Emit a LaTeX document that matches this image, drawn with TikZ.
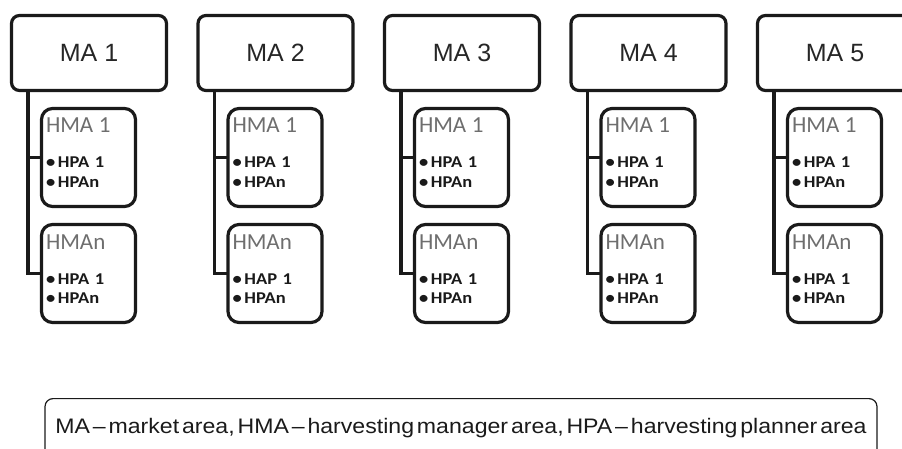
\documentclass[tikz,border=0pt]{standalone}
\usepackage{fontspec}
\setmainfont{Liberation Sans}
\newfontfamily\hmafont{Carlito}
\newfontfamily\hpafont[FakeStretch=1.12]{Carlito}
\newfontfamily\legendfont[Ligatures=TeX, FakeStretch=1.1, WordSpace=0.45]{Liberation Sans}
\usepackage{tikz}
\usetikzlibrary{positioning}
\definecolor{ink}{HTML}{1A1A1A}
\definecolor{matext}{HTML}{262626}
\definecolor{titlegray}{HTML}{6E6E6E}
\newcommand{\hmatitle}[1]{{\hmafont\mdseries\fontsize{23}{23}\selectfont\color{titlegray}#1}}
\newcommand{\hpa}{\textbullet\,}
\tikzset{
  mabox/.style={draw=ink, line width=3.2pt, rounded corners=8pt, outer sep=0pt, minimum width=155pt, minimum height=75pt, font=\fontsize{25}{30}\selectfont, text=matext},
  hmabox/.style={draw=ink, line width=3.2pt, rounded corners=11pt, outer sep=0pt, text width=85pt, align=left, inner xsep=4.5pt, inner ysep=0pt, text height=24.5pt, text depth=73.5pt, font=\hpafont\bfseries\fontsize{16.5}{20}\selectfont, text=ink},
  spine/.style={draw=ink, line width=3.2pt},
  legendbox/.style={draw=ink, line width=1.2pt, rounded corners=8pt, outer sep=0pt, minimum width=832pt, inner sep=0pt, text height=34.5pt, text depth=40pt, font=\legendfont\fontsize{21}{21}\selectfont, text=ink},
}

\begin{document}
\begin{tikzpicture}[x=1pt, y=1pt]
  \useasboundingbox (0,0) rectangle (902,-449);
  \clip (0,0) rectangle (902,-449);

  % market areas
  \node[mabox] (ma1) at (89,-53) {MA 1};
  \node[mabox, right=31.5pt of ma1] (ma2) {MA 2};
  \node[mabox, right=31.5pt of ma2] (ma3) {MA 3};
  \node[mabox, right=31.5pt of ma3] (ma4) {MA 4};
  \node[mabox, right=31.5pt of ma4] (ma5) {MA 5};

  % harvesting manager areas
  \node[hmabox, below right=18pt and 30pt of ma1.south west] (hma1) {\hmatitle{HMA 1}\\[15pt]\hpa HPA 1\\\hpa HPAn};
  \node[hmabox, below=18pt of hma1] (hman1) {\hmatitle{HMAn}\\[15pt]\hpa HPA 1\\\hpa HPAn};
  \node[hmabox, below right=18pt and 30pt of ma2.south west] (hma2) {\hmatitle{HMA 1}\\[15pt]\hpa HPA 1\\\hpa HPAn};
  \node[hmabox, below=18pt of hma2] (hman2) {\hmatitle{HMAn}\\[15pt]\hpa HAP 1\\\hpa HPAn};
  \node[hmabox, below right=18pt and 30pt of ma3.south west] (hma3) {\hmatitle{HMA 1}\\[15pt]\hpa HPA 1\\\hpa HPAn};
  \node[hmabox, below=18pt of hma3] (hman3) {\hmatitle{HMAn}\\[15pt]\hpa HPA 1\\\hpa HPAn};
  \node[hmabox, below right=18pt and 30pt of ma4.south west] (hma4) {\hmatitle{HMA 1}\\[15pt]\hpa HPA 1\\\hpa HPAn};
  \node[hmabox, below=18pt of hma4] (hman4) {\hmatitle{HMAn}\\[15pt]\hpa HPA 1\\\hpa HPAn};
  \node[hmabox, below right=18pt and 30pt of ma5.south west] (hma5) {\hmatitle{HMA 1}\\[15pt]\hpa HPA 1\\\hpa HPAn};
  \node[hmabox, below=18pt of hma5] (hman5) {\hmatitle{HMAn}\\[15pt]\hpa HPA 1\\\hpa HPAn};

  % spines
  \coordinate (s1) at ([xshift=16.5pt]ma1.south west);
  \coordinate (s2) at ([xshift=16.5pt]ma2.south west);
  \coordinate (s3) at ([xshift=16.5pt]ma3.south west);
  \coordinate (s4) at ([xshift=16.5pt]ma4.south west);
  \coordinate (s5) at ([xshift=16.5pt]ma5.south west);
  \draw[spine] (s1) |- (hman1.west);
  \draw[spine] (hma1.west) -- (hma1.west -| s1);
  \draw[spine] (s2) |- (hman2.west);
  \draw[spine] (hma2.west) -- (hma2.west -| s2);
  \draw[spine] (s3) |- (hman3.west);
  \draw[spine] (hma3.west) -- (hma3.west -| s3);
  \draw[spine] (s4) |- (hman4.west);
  \draw[spine] (hma4.west) -- (hma4.west -| s4);
  \draw[spine] (s5) |- (hman5.west);
  \draw[spine] (hma5.west) -- (hma5.west -| s5);

  % legend
  \node[legendbox, anchor=north west] (legend) at (45,-398.6)
    {MA -- market area, HMA -- harvesting manager area, HPA -- harvesting planner area};
\end{tikzpicture}
\end{document}
